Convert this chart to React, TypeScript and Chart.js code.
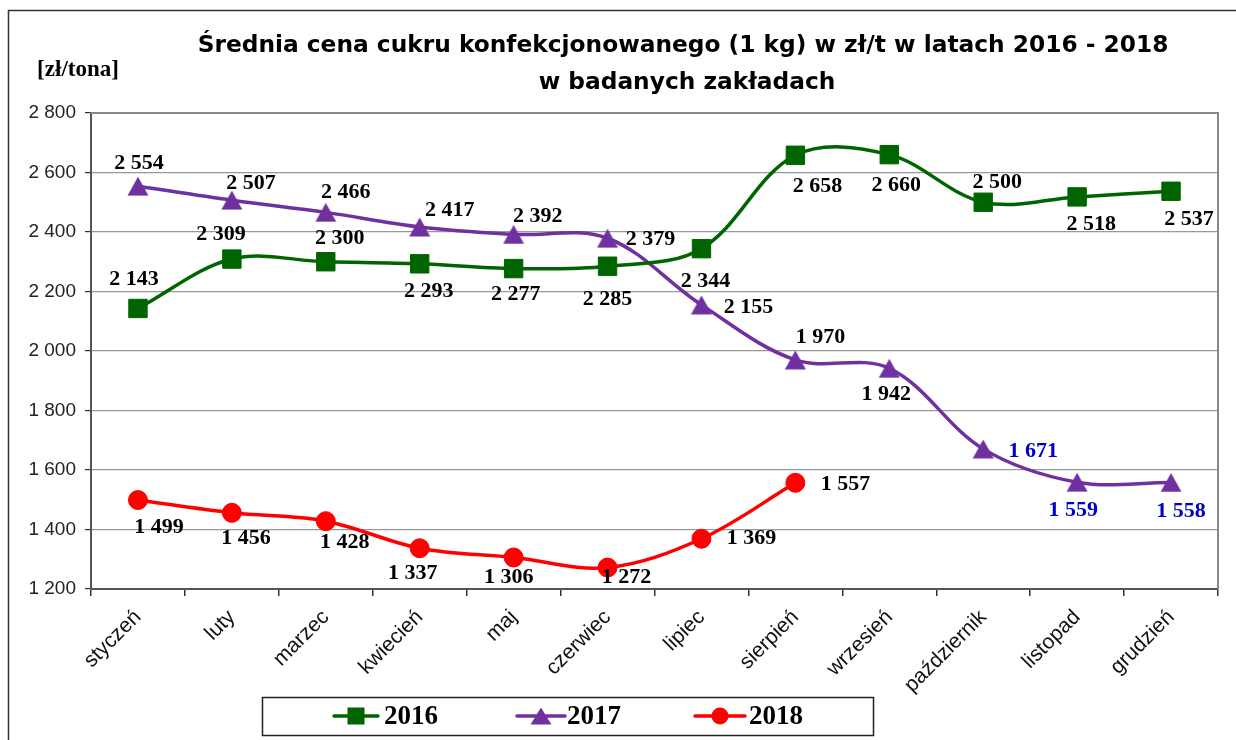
import React, { useEffect, useRef } from "react";
import { Chart, registerables } from "chart.js";

Chart.register(...registerables);

const MONTHS = ["styczeń", "luty", "marzec", "kwiecień", "maj", "czerwiec", "lipiec", "sierpień", "wrzesień", "październik", "listopad", "grudzień"];
const SERIES_NAMES = ["2016", "2017", "2018"];
const VALUES_2016 = [2143, 2309, 2300, 2293, 2277, 2285, 2344, 2658, 2660, 2500, 2518, 2537];
const VALUES_2017 = [2554, 2507, 2466, 2417, 2392, 2379, 2155, 1970, 1942, 1671, 1559, 1558];
const VALUES_2018 = [1499, 1456, 1428, 1337, 1306, 1272, 1369, 1557, null, null, null, null];
const Y_MIN = 1200;
const Y_MAX = 2800;
const Y_STEP = 200;
const TITLE_LINES = ["Średnia cena cukru konfekcjonowanego (1 kg) w zł/t w latach 2016 - 2018", "w badanych zakładach"];
const Y_UNIT = "[zł/tona]";

// label placement (offset from the point, in px) and colour, per series
const LABEL_OFFSETS = [
  [[-4, -29], [-11, -25], [14, -23], [9, 27], [2, 26], [0, 33], [4, 33], [22, 31], [7, 31], [14, -20], [14, 27], [18, 28]],
  [[1, -23], [19, -17], [20, -20], [30, -17], [24, -18], [43, 1], [47, 2], [25, -23], [-3, 26], [50, 2], [-4, 28], [10, 29]],
  [[21, 27], [14, 25], [19, 21], [-7, 25], [-5, 20], [19, 10], [50, 0], [50, 2]],
];
const LABEL_COLORS = [
  Array(12).fill("#000"),
  ["#000", "#000", "#000", "#000", "#000", "#000", "#000", "#000", "#000", "#0000cc", "#0000cc", "#0000cc"],
  Array(8).fill("#000"),
];

const COLORS = ["#006400", "#7030a0", "#ff0000"];
const STYLES = ["rect", "triangle", "circle"];
const RADII = [13, 11.5, 9.5];

const fmt = (n: number) => String(Math.round(n)).replace(/\B(?=(\d{3})+(?!\d))/g, " ");

function drawMarker(ctx: CanvasRenderingContext2D, style: string, x: number, y: number, size: number, color: string) {
  ctx.fillStyle = color;
  ctx.beginPath();
  if (style === "rect") {
    ctx.rect(x - size / 2, y - size / 2, size, size);
  } else if (style === "triangle") {
    ctx.moveTo(x, y - size * 0.45);
    ctx.lineTo(x + size * 0.55, y + size * 0.45);
    ctx.lineTo(x - size * 0.55, y + size * 0.45);
    ctx.closePath();
  } else {
    ctx.arc(x, y, size / 2, 0, Math.PI * 2);
  }
  ctx.fill();
}

function triangleImage(color: string): HTMLCanvasElement {
  const c = document.createElement("canvas");
  c.width = 22;
  c.height = 20;
  const ctx = c.getContext("2d") as CanvasRenderingContext2D;
  ctx.fillStyle = color;
  ctx.beginPath();
  ctx.moveTo(11, 0.5);
  ctx.lineTo(21.5, 19.5);
  ctx.lineTo(0.5, 19.5);
  ctx.closePath();
  ctx.fill();
  return c;
}

const framePlugin = {
  id: "frame",
  beforeDraw(chart: any) {
    const ctx = chart.ctx as CanvasRenderingContext2D;
    ctx.save();
    ctx.fillStyle = "#fff";
    ctx.fillRect(0, 0, chart.width, chart.height);
    ctx.strokeStyle = "#333";
    ctx.lineWidth = 1.5;
    ctx.beginPath();
    ctx.moveTo(8.5, chart.height);
    ctx.lineTo(8.5, 10.5);
    ctx.lineTo(chart.width, 10.5);
    ctx.stroke();

    // title
    ctx.fillStyle = "#000";
    ctx.textAlign = "center";
    ctx.textBaseline = "middle";
    const base = 22;
    ctx.font = `bold ${base}px "DejaVu Sans", sans-serif`;
    const w = ctx.measureText(TITLE_LINES[0]).width;
    const size = (base * 971) / w;
    ctx.font = `bold ${size.toFixed(2)}px "DejaVu Sans", sans-serif`;
    ctx.fillText(TITLE_LINES[0], 683, 46);
    ctx.fillText(TITLE_LINES[1], 687, 83);

    // unit
    ctx.font = 'bold 23px "Liberation Serif", "Times New Roman", serif';
    ctx.fillText(Y_UNIT, 78, 70);
    ctx.restore();
  },
  beforeDatasetsDraw(chart: any) {
    const { ctx, chartArea } = chart;
    ctx.save();
    ctx.strokeStyle = "#888";
    ctx.lineWidth = 2;
    ctx.beginPath();
    ctx.moveTo(chartArea.left, chartArea.top);
    ctx.lineTo(chartArea.right, chartArea.top);
    ctx.lineTo(chartArea.right, chartArea.bottom);
    ctx.stroke();
    ctx.restore();
  },
};

const labelPlugin = {
  id: "valueLabels",
  afterDatasetsDraw(chart: any) {
    const ctx = chart.ctx as CanvasRenderingContext2D;
    ctx.save();
    ctx.font = 'bold 22px "Liberation Serif", "Times New Roman", serif';
    ctx.textAlign = "center";
    ctx.textBaseline = "middle";
    chart.data.datasets.forEach((ds: any, di: number) => {
      const meta = chart.getDatasetMeta(di);
      meta.data.forEach((pt: any, i: number) => {
        const v = ds.data[i];
        if (v === null || v === undefined) return;
        const off = LABEL_OFFSETS[di][i] || [0, -24];
        ctx.fillStyle = LABEL_COLORS[di][i] || "#000";
        ctx.fillText(fmt(v), pt.x + off[0], pt.y + off[1]);
      });
    });
    ctx.restore();
  },
};

const legendPlugin = {
  id: "boxLegend",
  afterDraw(chart: any) {
    const ctx = chart.ctx as CanvasRenderingContext2D;
    ctx.save();
    ctx.strokeStyle = "#222";
    ctx.lineWidth = 1.5;
    ctx.strokeRect(262.5, 697.5, 611, 38);
    const items = [
      { x0: 334, x1: 378, tx: 384 },
      { x0: 517, x1: 565, tx: 567 },
      { x0: 695, x1: 745, tx: 749 },
    ];
    const cy = 716;
    ctx.font = 'bold 27px "Liberation Serif", "Times New Roman", serif';
    ctx.textAlign = "left";
    ctx.textBaseline = "middle";
    items.forEach((it, i) => {
      ctx.strokeStyle = COLORS[i];
      ctx.lineWidth = 3.5;
      ctx.lineCap = "round";
      ctx.beginPath();
      ctx.moveTo(it.x0, cy);
      ctx.lineTo(it.x1, cy);
      ctx.stroke();
      drawMarker(ctx, STYLES[i], (it.x0 + it.x1) / 2, cy, i === 0 ? 17 : i === 1 ? 19 : 17, COLORS[i]);
      ctx.fillStyle = "#000";
      ctx.fillText(SERIES_NAMES[i], it.tx, cy + 1);
    });
    ctx.restore();
  },
};

export default function App() {
  const ref = useRef<HTMLCanvasElement | null>(null);
  useEffect(() => {
    document.body.style.margin = "0";
    document.body.style.overflow = "hidden";
    const values = [VALUES_2016, VALUES_2017, VALUES_2018];
    const tri = triangleImage(COLORS[1]);
    const chart = new Chart(ref.current as HTMLCanvasElement, {
      type: "line",
      data: {
        labels: MONTHS,
        datasets: values.map((d, i) => ({
          label: SERIES_NAMES[i],
          data: d,
          borderColor: COLORS[i],
          backgroundColor: COLORS[i],
          pointBackgroundColor: COLORS[i],
          pointBorderColor: COLORS[i],
          pointBorderWidth: 1,
          borderWidth: 3.5,
          pointStyle: (STYLES[i] === "triangle" ? tri : STYLES[i]) as any,
          pointRadius: RADII[i],
          tension: 0.35,
          spanGaps: false,
          clip: false as any,
        })),
      },
      options: {
        animation: false,
        responsive: false,
        maintainAspectRatio: false,
        layout: { padding: { top: 113, right: 18, left: 0, bottom: 0 } },
        plugins: {
          legend: { display: false },
          tooltip: { enabled: false },
          title: { display: false },
        },
        scales: {
          x: {
            offset: true,
            grid: { offset: true, drawOnChartArea: false, drawTicks: true, tickLength: 7, tickColor: "#333", lineWidth: 1.5 },
            border: { color: "#555", width: 2 },
            ticks: {
              maxRotation: 45,
              minRotation: 45,
              autoSkip: false,
              padding: 9,
              color: "#111",
              font: { family: '"Liberation Sans", Arial, sans-serif', size: 21 },
            },
            afterFit: (s: any) => {
              s.height = 151;
            },
          },
          y: {
            min: Y_MIN,
            max: Y_MAX,
            grid: { color: "#999", lineWidth: 1.2, tickColor: "#333", tickLength: 6 },
            border: { color: "#555", width: 2 },
            ticks: {
              stepSize: Y_STEP,
              padding: 9,
              color: "#222",
              font: { family: '"Liberation Sans", Arial, sans-serif', size: 19 },
              callback: (v: any) => fmt(Number(v)),
            },
            afterFit: (s: any) => {
              s.width = 91;
            },
          },
        },
      },
      plugins: [framePlugin, labelPlugin, legendPlugin],
    });
    return () => chart.destroy();
  }, []);
  return (
    <div style={{ width: 1236, height: 740, position: "relative" }}>
      <canvas ref={ref} width={1236} height={740} style={{ display: "block" }} />
    </div>
  );
}
